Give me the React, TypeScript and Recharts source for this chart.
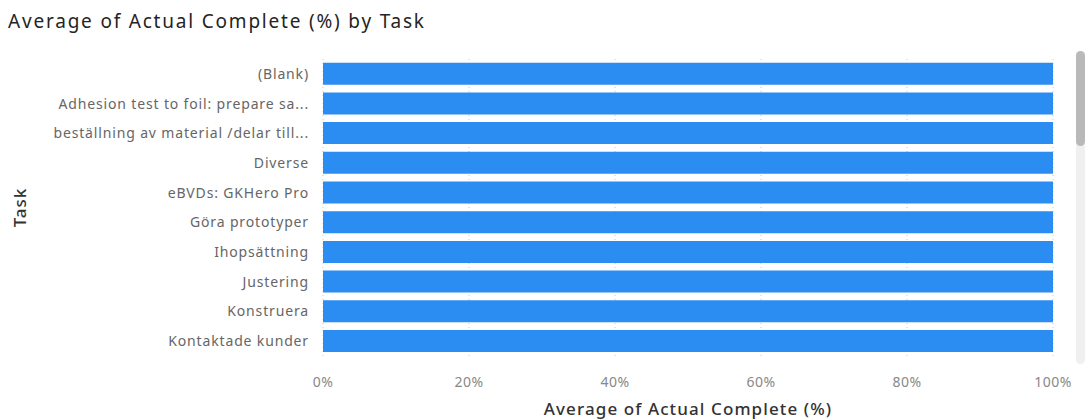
import React from 'react';
import { BarChart, Bar, XAxis, YAxis, CartesianGrid, Label } from 'recharts';

const tasks = [
  '(Blank)',
  'Adhesion test to foil: prepare sa...',
  'beställning av material /delar till...',
  'Diverse',
  'eBVDs: GKHero Pro',
  'Göra prototyper',
  'Ihopsättning',
  'Justering',
  'Konstruera',
  'Kontaktade kunder',
];
const values = [1, 1, 1, 1, 1, 1, 1, 1, 1, 1];
const xTicks = [0, 0.2, 0.4, 0.6, 0.8, 1];

const data = tasks.map((t, i) => ({ task: t, value: values[i] }));

const FONT = '"Noto Sans", "Open Sans", sans-serif';

export default function App() {
  return (
    <div style={{ position: 'absolute', left: 0, top: 0, width: 1086, height: 419, background: '#fff', fontFamily: FONT }}>
      <div style={{ position: 'absolute', left: 8, top: 8, fontSize: 19, letterSpacing: 1.8, color: '#252423', whiteSpace: 'nowrap' }}>
        Average of Actual Complete (%) by Task
      </div>
      <BarChart
        width={1086}
        height={419}
        data={data}
        layout="vertical"
        margin={{ top: 59, right: 33, bottom: 29, left: 0 }}
        barCategoryGap="12.5%"
      >
        <CartesianGrid horizontal={false} vertical={true} stroke="#c8c8c8" strokeDasharray="1 3" />
        <XAxis
          type="number"
          domain={[0, 1]}
          ticks={xTicks}
          tickFormatter={(v: number) => `${Math.round(v * 100)}%`}
          axisLine={false}
          tickLine={false}
          tick={{ fill: '#888', fontSize: 14, fontFamily: FONT, letterSpacing: 0.5 }}
          tickMargin={15}
          height={34}
        >
          <Label value="Average of Actual Complete (%)" position="insideBottom" offset={-25} fill="#333" fontSize={17} fontWeight={500} letterSpacing={1.1} fontFamily={FONT} />
        </XAxis>
        <YAxis
          type="category"
          dataKey="task"
          width={323}
          axisLine={false}
          tickLine={false}
          tick={{ fill: '#666', fontSize: 14, fontFamily: FONT, letterSpacing: 0.85 }}
          tickMargin={8}
          interval={0}
        >
          <Label value="Task" angle={-90} position="insideLeft" offset={20} textAnchor="middle" fill="#333" fontSize={17} fontWeight={500} letterSpacing={1} fontFamily={FONT} />
        </YAxis>
        <Bar dataKey="value" fill="#2b8cf1" isAnimationActive={false} />
      </BarChart>
      <div style={{ position: 'absolute', left: 1076, top: 51, width: 9, height: 313, background: '#f0f0f0', borderRadius: 5 }} />
      <div style={{ position: 'absolute', left: 1076, top: 51, width: 9, height: 95, background: '#b9b9b9', borderRadius: 5 }} />
    </div>
  );
}
